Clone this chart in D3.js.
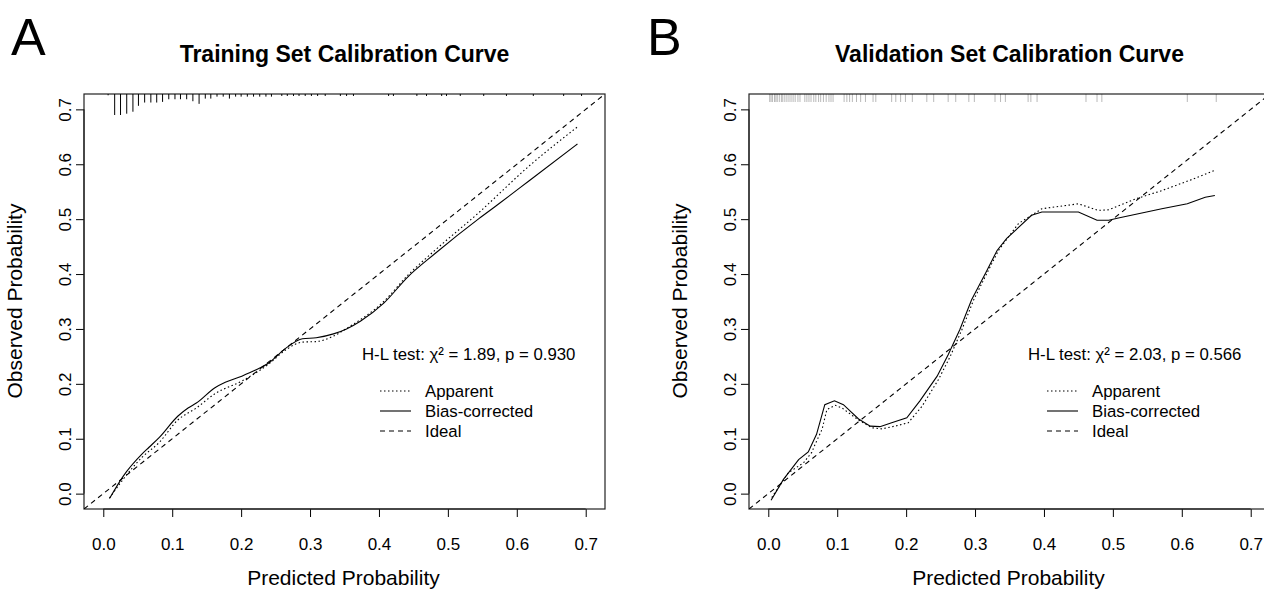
<!DOCTYPE html>
<html lang="en">
<head>
<meta charset="UTF-8">
<title>Calibration curves</title>
<style>
body { margin: 0; background: #fff; }
svg { display: block; font-family: "Liberation Sans", Arial, sans-serif; }
</style>
</head>
<body>
<svg id="chart" width="1264" height="592"></svg>
<script src="https://cdn.jsdelivr.net/npm/d3@7"></script>
<script>
// ---- data ----
var axisTicks = [0, 0.1, 0.2, 0.3, 0.4, 0.5, 0.6, 0.7];

// training set
var trainApparent = [[0.009,-0.008],[0.030,0.028],[0.056,0.066],[0.081,0.093],[0.108,0.134],[0.135,0.156],
  [0.162,0.182],[0.201,0.205],[0.240,0.236],[0.265,0.262],[0.289,0.276],[0.309,0.277],[0.334,0.287],
  [0.353,0.301],[0.407,0.350],[0.442,0.398],[0.481,0.443],[0.545,0.512],[0.618,0.597],[0.688,0.668]];
var trainCorrected = [[0.009,-0.009],[0.029,0.032],[0.056,0.072],[0.066,0.084],[0.081,0.102],[0.108,0.141],
  [0.123,0.156],[0.135,0.165],[0.162,0.193],[0.177,0.203],[0.201,0.214],[0.221,0.225],[0.240,0.238],
  [0.265,0.265],[0.289,0.282],[0.309,0.284],[0.334,0.291],[0.353,0.300],[0.373,0.314],[0.407,0.347],
  [0.442,0.395],[0.481,0.437],[0.545,0.501],[0.574,0.528],[0.618,0.570],[0.688,0.637]];
var trainRugX = [0.007,0.0165,0.025,0.034,0.043,0.051,0.060,0.069,0.0775,0.086,0.095,0.104,0.112,0.121,
  0.130,0.139,0.148,0.156,0.165,0.174,0.183,0.192,0.200,0.209,0.218,0.227,0.236,0.244,
  0.259,0.267,0.276,0.284,0.293,0.302,0.311,0.322,0.344,0.353,0.363,0.414,0.421,0.455,0.469,
  0.491,0.498,0.518,0.552,0.585,0.624,0.668,0.694];
var trainRugFreq = [2,32,32,30,27,18,13,13,13,12,8,8,8,8,11,15,7,7,4,4,7,4,4,4,4,4,4,4,
  3,3,3,3,3,3,3,3,3,3,3,3,3,3,3,3,3,3,3,3,3,3,3];
var trainStat = "H-L test: χ² = 1.89, p = 0.930";

// validation set
var validApparent = [[0.005,-0.007],[0.029,0.038],[0.051,0.056],[0.063,0.075],[0.068,0.090],[0.078,0.117],
  [0.085,0.153],[0.097,0.161],[0.107,0.156],[0.131,0.134],[0.150,0.120],[0.165,0.118],[0.184,0.123],
  [0.203,0.129],[0.223,0.159],[0.247,0.208],[0.264,0.250],[0.281,0.299],[0.298,0.353],[0.317,0.401],
  [0.334,0.443],[0.363,0.492],[0.397,0.519],[0.450,0.528],[0.479,0.516],[0.494,0.517],[0.533,0.537],
  [0.571,0.552],[0.610,0.570],[0.648,0.589]];
var validCorrected = [[0.004,-0.012],[0.022,0.026],[0.044,0.062],[0.058,0.076],[0.070,0.108],[0.082,0.162],
  [0.096,0.169],[0.109,0.162],[0.131,0.136],[0.148,0.123],[0.162,0.122],[0.179,0.129],[0.201,0.138],
  [0.220,0.169],[0.245,0.214],[0.261,0.253],[0.278,0.299],[0.295,0.353],[0.315,0.401],[0.332,0.443],
  [0.346,0.465],[0.382,0.507],[0.397,0.513],[0.450,0.513],[0.477,0.498],[0.494,0.498],[0.508,0.502],
  [0.571,0.519],[0.608,0.528],[0.634,0.540],[0.648,0.543]];
var validRugX = [0.002,0.004,0.006,0.009,0.011,0.013,0.016,0.019,0.021,0.024,0.027,0.030,0.033,0.036,
  0.039,0.043,0.046,0.053,0.056,0.059,0.062,0.066,0.069,0.073,0.076,0.080,0.084,0.088,0.091,0.094,
  0.110,0.114,0.118,0.122,0.128,0.134,0.141,0.152,0.156,0.179,0.185,0.192,0.199,0.209,0.230,0.240,
  0.261,0.272,0.291,0.299,0.329,0.337,0.344,0.377,0.381,0.390,0.461,0.477,0.484,0.608,0.650];
var validStat = "H-L test: χ² = 2.03, p = 0.566";

var legendLabels = ["Apparent", "Bias-corrected", "Ideal"];
var legendDash = ["1.5,2.5", null, "5,4"];

// ---- drawing ----
var svg = d3.select("#chart");
var lim = [-0.028, 0.728];

function drawPanel(cfg) {
  var x = d3.scaleLinear().domain(lim).range([cfg.left, cfg.right]);
  var y = d3.scaleLinear().domain(lim).range([509, 94]);
  var g = svg.append("g");

  var clipId = "clip" + cfg.letter;
  g.append("clipPath").attr("id", clipId)
    .append("rect").attr("x", cfg.left).attr("y", 94)
    .attr("width", cfg.right - cfg.left).attr("height", 415);

  // panel letter + title
  g.append("text").attr("x", cfg.letterX).attr("y", 55)
    .style("font-size", "52px").text(cfg.letter);
  g.append("text").attr("x", (cfg.left + cfg.right) / 2).attr("y", 62)
    .attr("text-anchor", "middle").style("font-size", "23px").style("font-weight", "bold")
    .text(cfg.title);

  // axes
  var xAxis = d3.axisBottom(x).tickValues(axisTicks).tickFormat(d3.format(".1f")).tickSize(8).tickSizeOuter(0);
  var gx = g.append("g").attr("transform", "translate(0,509)").call(xAxis);
  gx.select(".domain").attr("d", "M" + x(0) + ",0H" + x(0.7));
  gx.selectAll("text").attr("dy", null).attr("y", 41).style("font-size", "17px")
    .attr("font-family", null).attr("fill", "#000");

  var yAxis = d3.axisLeft(y).tickValues(axisTicks).tickFormat(d3.format(".1f")).tickSize(8).tickSizeOuter(0);
  var gy = g.append("g").attr("transform", "translate(" + cfg.left + ",0)").call(yAxis);
  gy.select(".domain").attr("d", "M0," + y(0) + "V" + y(0.7));
  gy.selectAll("text").attr("dy", null).attr("x", null)
    .attr("text-anchor", "middle").style("font-size", "17px").attr("font-family", null)
    .attr("transform", "translate(-13,0) rotate(-90)").attr("y", 0).attr("fill", "#000");
  g.selectAll(".tick line").attr("stroke", "#000");

  g.append("text").attr("x", (cfg.left + cfg.right) / 2 - 1).attr("y", 585)
    .attr("text-anchor", "middle").style("font-size", "21px").text("Predicted Probability");
  g.append("text").attr("transform", "translate(" + (cfg.left - 62) + ",301) rotate(-90)")
    .attr("text-anchor", "middle").style("font-size", "21px").text("Observed Probability");

  // box
  g.append("rect").attr("x", cfg.left).attr("y", 94)
    .attr("width", cfg.right - cfg.left).attr("height", 415)
    .attr("fill", "none").attr("stroke", "#222").attr("stroke-width", 1.2);

  var plot = g.append("g").attr("clip-path", "url(#" + clipId + ")");

  // rug
  if (cfg.rugFreq) {
    var len = d3.scaleLinear().domain([0, d3.max(cfg.rugFreq)]).range([0, 21]);
    plot.selectAll("line.rug").data(cfg.rugX).join("line").attr("class", "rug")
      .attr("x1", function (d) { return x(d); }).attr("x2", function (d) { return x(d); })
      .attr("y1", 94).attr("y2", function (d, i) { return 94 + len(cfg.rugFreq[i]); })
      .attr("stroke", "#000").attr("stroke-width", 1);
  } else {
    plot.selectAll("line.rug").data(cfg.rugX).join("line").attr("class", "rug")
      .attr("x1", function (d) { return x(d); }).attr("x2", function (d) { return x(d); })
      .attr("y1", 94).attr("y2", 102)
      .attr("stroke", "#000").attr("stroke-opacity", 0.28).attr("stroke-width", 1);
  }

  // ideal
  plot.append("line").attr("x1", x(lim[0])).attr("y1", y(lim[0]))
    .attr("x2", x(lim[1])).attr("y2", y(lim[1]))
    .attr("stroke", "#000").attr("stroke-width", 1.1).attr("stroke-dasharray", legendDash[2]);

  var line = d3.line().x(function (d) { return x(d[0]); }).y(function (d) { return y(d[1]); })
    .curve(cfg.curve);
  plot.append("path").attr("d", line(cfg.apparent)).attr("fill", "none")
    .attr("stroke", "#000").attr("stroke-width", 1.1).attr("stroke-dasharray", legendDash[0]);
  plot.append("path").attr("d", line(cfg.corrected)).attr("fill", "none")
    .attr("stroke", "#000").attr("stroke-width", 1.1);

  // stats + legend
  g.append("text").attr("x", cfg.statX).attr("y", 360).style("font-size", "16.8px").text(cfg.stat);
  var lg = g.selectAll("g.leg").data(legendLabels).join("g").attr("class", "leg")
    .attr("transform", function (d, i) { return "translate(" + cfg.legX + "," + (391 + i * 20) + ")"; });
  lg.append("line").attr("x1", 0).attr("x2", 31).attr("stroke", "#000").attr("stroke-width", 1.1)
    .attr("stroke-dasharray", function (d, i) { return legendDash[i]; });
  lg.append("text").attr("x", 45).attr("y", 6).style("font-size", "16.8px").text(function (d) { return d; });
}

drawPanel({
  letter: "A", letterX: 11, title: "Training Set Calibration Curve",
  left: 84, right: 605, apparent: trainApparent, corrected: trainCorrected,
  rugX: trainRugX, rugFreq: trainRugFreq, stat: trainStat, statX: 362, legX: 380,
  curve: d3.curveMonotoneX
});
drawPanel({
  letter: "B", letterX: 647, title: "Validation Set Calibration Curve",
  left: 749, right: 1270, apparent: validApparent, corrected: validCorrected,
  rugX: validRugX, rugFreq: null, stat: validStat, statX: 1028, legX: 1047,
  curve: d3.curveLinear
});
</script>
</body>
</html>
